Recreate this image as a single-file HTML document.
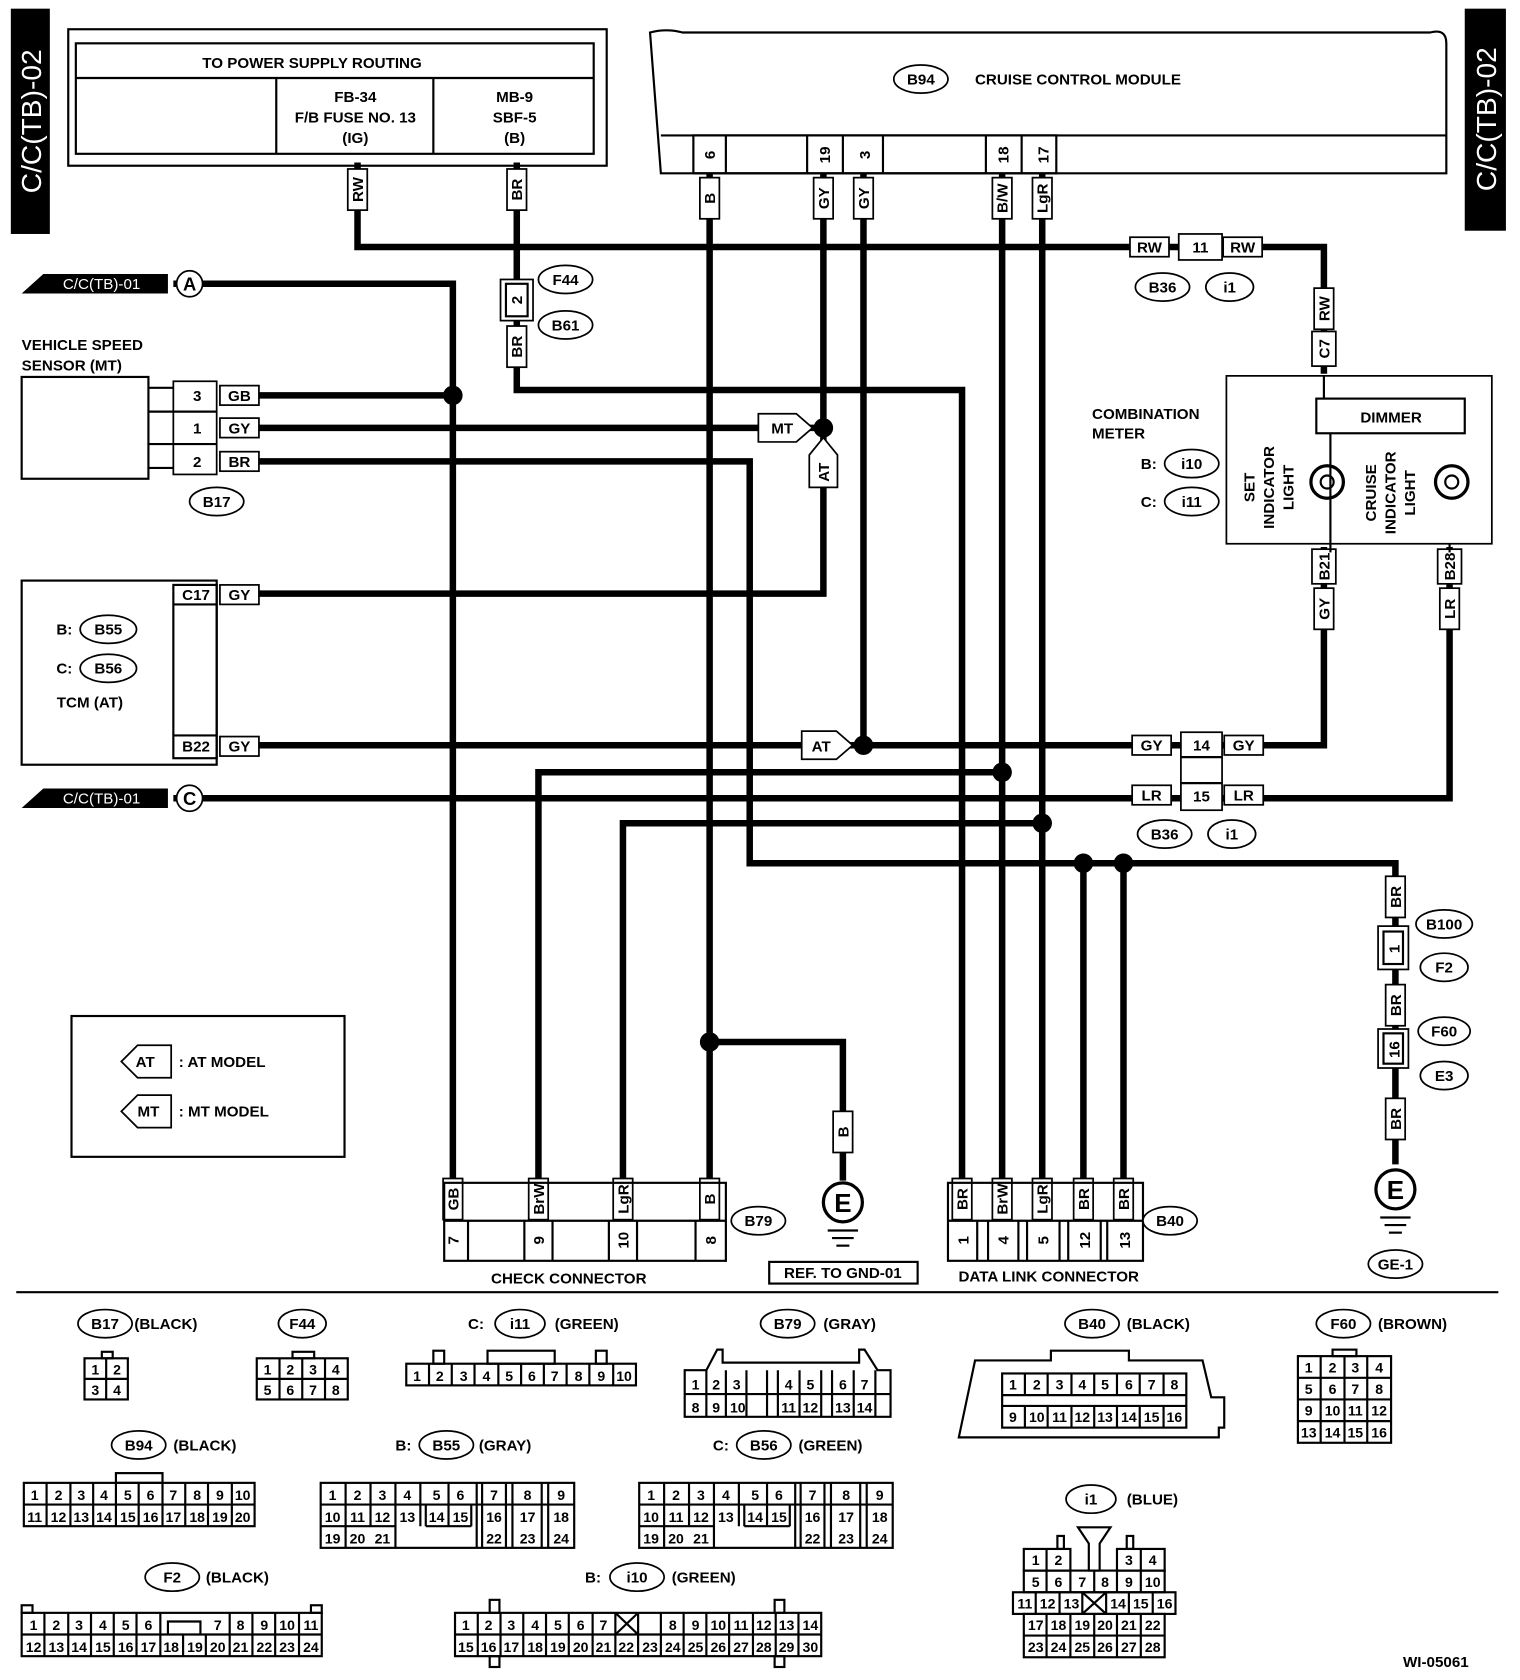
<!DOCTYPE html>
<html><head><meta charset="utf-8"><style>
html,body{margin:0;padding:0;background:#fff}
svg{display:block}
text{font-family:"Liberation Sans",Arial,sans-serif;font-weight:bold;font-size:14px;fill:#000}
.w{stroke:#000;stroke-width:6;fill:none}
.l{stroke:#000;stroke-width:2;fill:none}
.lb{stroke:#000;stroke-width:1.6;fill:#fff}
.p text,.p{font-size:13px}
</style></head><body>
<svg width="1520" height="1680" viewBox="0 0 1403 1551" preserveAspectRatio="none" xmlns="http://www.w3.org/2000/svg">
<defs>
<g id="gnd"><line x1="-14" y1="26" x2="14" y2="26" class="l"/><line x1="-10" y1="33" x2="10" y2="33" class="l"/><line x1="-6" y1="40" x2="6" y2="40" class="l"/></g>
</defs>
<!-- side tags -->
<rect x="10" y="8" width="36" height="208" fill="#000"/>
<text transform="translate(38,112) rotate(-90)" text-anchor="middle" style="fill:#fff;font-size:26px;font-weight:normal">C/C(TB)-02</text>
<rect x="1352" y="8" width="38" height="205" fill="#000"/>
<text transform="translate(1381,110) rotate(-90)" text-anchor="middle" style="fill:#fff;font-size:26px;font-weight:normal">C/C(TB)-02</text>

<!-- power supply box -->
<rect x="63" y="27" width="497" height="126" class="l"/>
<rect x="70" y="40" width="478" height="102" class="l"/>
<line x1="70" y1="72" x2="548" y2="72" class="l"/>
<line x1="255" y1="72" x2="255" y2="142" class="l"/>
<line x1="400" y1="72" x2="400" y2="142" class="l"/>
<text x="288" y="63" text-anchor="middle">TO POWER SUPPLY ROUTING</text>
<text x="328" y="94" text-anchor="middle">FB-34</text>
<text x="328" y="113" text-anchor="middle">F/B FUSE NO. 13</text>
<text x="328" y="132" text-anchor="middle">(IG)</text>
<text x="475" y="94" text-anchor="middle">MB-9</text>
<text x="475" y="113" text-anchor="middle">SBF-5</text>
<text x="475" y="132" text-anchor="middle">(B)</text>

<!-- cruise module -->
<path d="M600 30 Q615 26 630 30 L1320 30 Q1335 26 1335 40 L1335 160 L610 160 Z" class="l"/>
<line x1="610" y1="125" x2="1335" y2="125" class="l"/>
<rect x="640" y="125" width="335" height="35" class="l"/>
<line x1="670" y1="125" x2="670" y2="160" class="l"/><line x1="745" y1="125" x2="745" y2="160" class="l"/><line x1="778" y1="125" x2="778" y2="160" class="l"/><line x1="815" y1="125" x2="815" y2="160" class="l"/><line x1="910" y1="125" x2="910" y2="160" class="l"/><line x1="943" y1="125" x2="943" y2="160" class="l"/>
<ellipse cx="850" cy="73" rx="25" ry="13" class="lb"/><text x="850" y="78" text-anchor="middle">B94</text>
<text x="995" y="78" text-anchor="middle">CRUISE CONTROL MODULE</text>
<g text-anchor="middle">
<text transform="translate(660,143) rotate(-90)">6</text>
<text transform="translate(766,143) rotate(-90)">19</text>
<text transform="translate(803,143) rotate(-90)">3</text>
<text transform="translate(931,143) rotate(-90)">18</text>
<text transform="translate(968,143) rotate(-90)">17</text>
</g>

<!-- wires -->
<path class="w" d="M330 150 V228 H1222 V345"/>
<path class="w" d="M477 150 V360 H888 V1095"/>
<path class="w" d="M655 160 V1095 M655 962 H778 V1090"/>
<path class="w" d="M760 160 V548 H205"/>
<path class="w" d="M797 160 V688 M205 688 H1222 V505"/>
<path class="w" d="M925 160 V1095 M925 713 H497 V1095"/>
<path class="w" d="M962 160 V1095 M962 760 H575 V1095"/>
<path class="w" d="M160 737 H1338 V505"/>
<path class="w" d="M160 262 H418 V1095 M205 365 H418"/>
<path class="w" d="M205 395 H760"/>
<path class="w" d="M205 426 H692 V797 H1288 V1075 M1000 797 V1095 M1037 797 V1095"/>
<g fill="#000"><circle cx="418" cy="365" r="9"/><circle cx="760" cy="395" r="9"/><circle cx="797" cy="688" r="9"/><circle cx="925" cy="713" r="9"/><circle cx="962" cy="760" r="9"/><circle cx="1000" cy="797" r="9"/><circle cx="1037" cy="797" r="9"/><circle cx="655" cy="962" r="9"/></g>

<!-- arrows -->
<polygon points="700,382 735,382 750,395 735,408 700,408" class="lb"/><text x="722" y="400" text-anchor="middle">MT</text>
<polygon points="747,420 760,404 773,420 773,450 747,450" class="lb"/><text transform="translate(765,436) rotate(-90)" text-anchor="middle">AT</text>
<polygon points="740,675 772,675 787,688 772,701 740,701" class="lb"/><text x="758" y="694" text-anchor="middle">AT</text>

<!-- vertical wire labels -->
<g text-anchor="middle">
<g transform="translate(330,175) rotate(-90)"><rect x="-19" y="-9" width="38" height="18" class="lb"/><text y="5">RW</text></g>
<g transform="translate(477,175) rotate(-90)"><rect x="-19" y="-9" width="38" height="18" class="lb"/><text y="5">BR</text></g>
<g transform="translate(655,183) rotate(-90)"><rect x="-19" y="-9" width="38" height="18" class="lb"/><text y="5">B</text></g>
<g transform="translate(760,183) rotate(-90)"><rect x="-19" y="-9" width="38" height="18" class="lb"/><text y="5">GY</text></g>
<g transform="translate(797,183) rotate(-90)"><rect x="-19" y="-9" width="38" height="18" class="lb"/><text y="5">GY</text></g>
<g transform="translate(925,183) rotate(-90)"><rect x="-19" y="-9" width="38" height="18" class="lb"/><text y="5">B/W</text></g>
<g transform="translate(962,183) rotate(-90)"><rect x="-19" y="-9" width="38" height="18" class="lb"/><text y="5">LgR</text></g>
<g transform="translate(477,320) rotate(-90)"><rect x="-19" y="-9" width="38" height="18" class="lb"/><text y="5">BR</text></g>
<g transform="translate(1222,285) rotate(-90)"><rect x="-19" y="-9" width="38" height="18" class="lb"/><text y="5">RW</text></g>
<g transform="translate(1222,322) rotate(-90)"><rect x="-16" y="-11" width="32" height="22" class="lb"/><text y="5">C7</text></g>
<g transform="translate(1222,523) rotate(-90)"><rect x="-16" y="-11" width="32" height="22" class="lb"/><text y="5">B21</text></g>
<g transform="translate(1338,523) rotate(-90)"><rect x="-16" y="-11" width="32" height="22" class="lb"/><text y="5">B28</text></g>
<g transform="translate(1222,562) rotate(-90)"><rect x="-19" y="-9" width="38" height="18" class="lb"/><text y="5">GY</text></g>
<g transform="translate(1338,562) rotate(-90)"><rect x="-19" y="-9" width="38" height="18" class="lb"/><text y="5">LR</text></g>
<g transform="translate(1288,828) rotate(-90)"><rect x="-19" y="-9" width="38" height="18" class="lb"/><text y="5">BR</text></g>
<g transform="translate(1288,928) rotate(-90)"><rect x="-19" y="-9" width="38" height="18" class="lb"/><text y="5">BR</text></g>
<g transform="translate(1288,1033) rotate(-90)"><rect x="-19" y="-9" width="38" height="18" class="lb"/><text y="5">BR</text></g>
<g transform="translate(778,1045) rotate(-90)"><rect x="-19" y="-9" width="38" height="18" class="lb"/><text y="5">B</text></g>
<g transform="translate(418,1107) rotate(-90)"><rect x="-19" y="-9" width="38" height="18" class="lb"/><text y="5">GB</text></g>
<g transform="translate(497,1107) rotate(-90)"><rect x="-19" y="-9" width="38" height="18" class="lb"/><text y="5">BrW</text></g>
<g transform="translate(575,1107) rotate(-90)"><rect x="-19" y="-9" width="38" height="18" class="lb"/><text y="5">LgR</text></g>
<g transform="translate(655,1107) rotate(-90)"><rect x="-19" y="-9" width="38" height="18" class="lb"/><text y="5">B</text></g>
<g transform="translate(888,1107) rotate(-90)"><rect x="-19" y="-9" width="38" height="18" class="lb"/><text y="5">BR</text></g>
<g transform="translate(925,1107) rotate(-90)"><rect x="-19" y="-9" width="38" height="18" class="lb"/><text y="5">BrW</text></g>
<g transform="translate(962,1107) rotate(-90)"><rect x="-19" y="-9" width="38" height="18" class="lb"/><text y="5">LgR</text></g>
<g transform="translate(1000,1107) rotate(-90)"><rect x="-19" y="-9" width="38" height="18" class="lb"/><text y="5">BR</text></g>
<g transform="translate(1037,1107) rotate(-90)"><rect x="-19" y="-9" width="38" height="18" class="lb"/><text y="5">BR</text></g>
</g>

<!-- F44/B61 fuse connector -->
<rect x="462" y="258" width="30" height="38" class="lb"/><rect x="467" y="262" width="20" height="30" class="l"/>
<text transform="translate(482,277) rotate(-90)" text-anchor="middle">2</text>
<g text-anchor="middle">
<ellipse cx="522" cy="258" rx="25" ry="13" class="lb"/><text x="522" y="263">F44</text>
<ellipse cx="522" cy="300" rx="25" ry="13" class="lb"/><text x="522" y="305">B61</text>
</g>

<!-- connector 11 -->
<g text-anchor="middle">
<rect x="1043" y="219" width="36" height="18" class="lb"/><text x="1061" y="233">RW</text>
<rect x="1088" y="216" width="40" height="24" class="lb"/><text x="1108" y="233">11</text>
<rect x="1129" y="219" width="36" height="18" class="lb"/><text x="1147" y="233">RW</text>
<ellipse cx="1073" cy="265" rx="25" ry="13" class="lb"/><text x="1073" y="270">B36</text>
<ellipse cx="1135" cy="265" rx="22" ry="13" class="lb"/><text x="1135" y="270">i1</text>
<!-- connector 14/15 -->
<rect x="1045" y="679" width="36" height="18" class="lb"/><text x="1063" y="693">GY</text>
<rect x="1130" y="679" width="36" height="18" class="lb"/><text x="1148" y="693">GY</text>
<rect x="1045" y="725" width="36" height="18" class="lb"/><text x="1063" y="739">LR</text>
<rect x="1130" y="725" width="36" height="18" class="lb"/><text x="1148" y="739">LR</text>
<rect x="1090" y="676" width="38" height="72" class="lb"/><line x1="1090" y1="699" x2="1128" y2="699" class="l"/><line x1="1090" y1="723" x2="1128" y2="723" class="l"/>
<text x="1109" y="693">14</text><text x="1109" y="740">15</text>
<ellipse cx="1075" cy="770" rx="25" ry="13" class="lb"/><text x="1075" y="775">B36</text>
<ellipse cx="1137" cy="770" rx="22" ry="13" class="lb"/><text x="1137" y="775">i1</text>
</g>

<!-- vehicle speed sensor -->
<text x="20" y="323">VEHICLE SPEED</text><text x="20" y="342">SENSOR (MT)</text>
<rect x="20" y="348" width="117" height="94" class="l"/>
<path d="M137 358 H160 M137 380 H160 M137 410 H160 M137 432 H160" class="l"/>
<rect x="160" y="352" width="40" height="86" class="lb"/>
<line x1="160" y1="380" x2="200" y2="380" class="l"/><line x1="160" y1="410" x2="200" y2="410" class="l"/>
<g text-anchor="middle">
<text x="182" y="370">3</text><text x="182" y="400">1</text><text x="182" y="431">2</text>
<rect x="203" y="356" width="36" height="18" class="lb"/><text x="221" y="370">GB</text>
<rect x="203" y="386" width="36" height="18" class="lb"/><text x="221" y="400">GY</text>
<rect x="203" y="417" width="36" height="18" class="lb"/><text x="221" y="431">BR</text>
<ellipse cx="200" cy="463" rx="25" ry="13" class="lb"/><text x="200" y="468">B17</text>
</g>

<!-- TCM -->
<rect x="20" y="536" width="180" height="170" class="l"/>
<rect x="160" y="540" width="40" height="160" class="l"/>
<line x1="160" y1="558" x2="200" y2="558" class="l"/><line x1="160" y1="679" x2="200" y2="679" class="l"/>
<g text-anchor="middle">
<text x="181" y="554">C17</text><text x="181" y="694">B22</text>
<rect x="203" y="540" width="36" height="18" class="lb"/><text x="221" y="554">GY</text>
<rect x="203" y="680" width="36" height="18" class="lb"/><text x="221" y="694">GY</text>
<ellipse cx="100" cy="581" rx="26" ry="13" class="lb"/><text x="100" y="586">B55</text>
<ellipse cx="100" cy="617" rx="26" ry="13" class="lb"/><text x="100" y="622">B56</text>
<text x="83" y="653">TCM (AT)</text>
</g>
<text x="52" y="586">B:</text><text x="52" y="622">C:</text>

<!-- C/C(TB)-01 tags -->
<polygon points="40,253 155,253 155,271 20,271" fill="#000"/>
<text x="58" y="267" style="fill:#fff;font-weight:normal">C/C(TB)-01</text>
<circle cx="175" cy="262" r="12" class="lb"/><text x="175" y="268" text-anchor="middle" style="font-size:17px">A</text>
<polygon points="40,728 155,728 155,746 20,746" fill="#000"/>
<text x="58" y="742" style="fill:#fff;font-weight:normal">C/C(TB)-01</text>
<circle cx="175" cy="737" r="12" class="lb"/><text x="175" y="743" text-anchor="middle" style="font-size:17px">C</text>

<!-- combination meter -->
<text x="1008" y="387">COMBINATION</text><text x="1008" y="405">METER</text>
<text x="1053" y="433">B:</text><text x="1053" y="468">C:</text>
<g text-anchor="middle">
<ellipse cx="1100" cy="428" rx="25" ry="13" class="lb"/><text x="1100" y="433">i10</text>
<ellipse cx="1100" cy="463" rx="25" ry="13" class="lb"/><text x="1100" y="468">i11</text>
</g>
<rect x="1132" y="347" width="245" height="155" class="lb"/>
<rect x="1215" y="368" width="137" height="32" class="l"/><text x="1284" y="390" text-anchor="middle">DIMMER</text>
<line x1="1228" y1="400" x2="1228" y2="502" class="l"/>
<line x1="1222" y1="347" x2="1222" y2="368" class="l"/>
<line x1="1228" y1="502" x2="1228" y2="510" class="l"/><line x1="1338" y1="502" x2="1338" y2="510" class="l"/>
<g text-anchor="middle">
<text transform="translate(1158,450) rotate(-90)">SET</text>
<text transform="translate(1176,450) rotate(-90)">INDICATOR</text>
<text transform="translate(1194,450) rotate(-90)">LIGHT</text>
<text transform="translate(1270,455) rotate(-90)">CRUISE</text>
<text transform="translate(1288,455) rotate(-90)">INDICATOR</text>
<text transform="translate(1306,455) rotate(-90)">LIGHT</text>
</g>
<circle cx="1225" cy="445" r="15" class="l" style="stroke-width:3"/><circle cx="1225" cy="445" r="6" class="l"/>
<circle cx="1340" cy="445" r="15" class="l" style="stroke-width:3"/><circle cx="1340" cy="445" r="6" class="l"/>

<!-- right side fuse chain -->
<rect x="1272" y="855" width="28" height="40" class="lb"/><rect x="1277" y="860" width="18" height="30" class="l"/>
<text transform="translate(1292,876) rotate(-90)" text-anchor="middle">1</text>
<rect x="1272" y="950" width="28" height="36" class="lb"/><rect x="1277" y="954" width="18" height="28" class="l"/>
<text transform="translate(1292,969) rotate(-90)" text-anchor="middle">16</text>
<g text-anchor="middle">
<ellipse cx="1333" cy="853" rx="26" ry="13" class="lb"/><text x="1333" y="858">B100</text>
<ellipse cx="1333" cy="893" rx="22" ry="13" class="lb"/><text x="1333" y="898">F2</text>
<ellipse cx="1333" cy="952" rx="24" ry="13" class="lb"/><text x="1333" y="957">F60</text>
<ellipse cx="1333" cy="993" rx="22" ry="13" class="lb"/><text x="1333" y="998">E3</text>
<ellipse cx="1288" cy="1167" rx="25" ry="13" class="lb"/><text x="1288" y="1172">GE-1</text>
</g>
<!-- grounds -->
<circle cx="778" cy="1110" r="18" class="lb" style="stroke-width:3"/><text x="778" y="1119" text-anchor="middle" style="font-size:24px">E</text>
<use href="#gnd" x="778" y="1110"/>
<circle cx="1288" cy="1098" r="18" class="lb" style="stroke-width:3"/><text x="1288" y="1107" text-anchor="middle" style="font-size:24px">E</text>
<use href="#gnd" x="1288" y="1098"/>
<rect x="710" y="1165" width="137" height="20" class="l"/><text x="778" y="1180" text-anchor="middle">REF. TO GND-01</text>

<!-- check connector -->
<rect x="410" y="1092" width="260" height="72" class="l"/><line x1="410" y1="1127" x2="670" y2="1127" class="l"/>
<path d="M432 1127 V1164 M484 1127 V1164 M510 1127 V1164 M562 1127 V1164 M588 1127 V1164 M642 1127 V1164" class="l"/>
<g text-anchor="middle">
<text transform="translate(423,1145) rotate(-90)">7</text>
<text transform="translate(502,1145) rotate(-90)">9</text>
<text transform="translate(580,1145) rotate(-90)">10</text>
<text transform="translate(661,1145) rotate(-90)">8</text>
<ellipse cx="700" cy="1127" rx="25" ry="13" class="lb"/><text x="700" y="1132">B79</text>
<text x="525" y="1185">CHECK CONNECTOR</text>
</g>
<!-- data link connector -->
<rect x="875" y="1092" width="180" height="72" class="l"/><line x1="875" y1="1127" x2="1055" y2="1127" class="l"/>
<path d="M902 1127 V1164 M912 1127 V1164 M940 1127 V1164 M948 1127 V1164 M978 1127 V1164 M986 1127 V1164 M1016 1127 V1164 M1022 1127 V1164" class="l"/>
<g text-anchor="middle">
<text transform="translate(894,1145) rotate(-90)">1</text>
<text transform="translate(931,1145) rotate(-90)">4</text>
<text transform="translate(968,1145) rotate(-90)">5</text>
<text transform="translate(1006,1145) rotate(-90)">12</text>
<text transform="translate(1043,1145) rotate(-90)">13</text>
<ellipse cx="1080" cy="1127" rx="25" ry="13" class="lb"/><text x="1080" y="1132">B40</text>
<text x="968" y="1183">DATA LINK CONNECTOR</text>
</g>

<!-- legend -->
<rect x="66" y="938" width="252" height="130" class="l"/>
<polygon points="112,980 127,965 158,965 158,995 127,995" class="lb"/><text x="134" y="985" text-anchor="middle">AT</text>
<text x="165" y="985">: AT MODEL</text>
<polygon points="112,1026 127,1011 158,1011 158,1041 127,1041" class="lb"/><text x="137" y="1031" text-anchor="middle">MT</text>
<text x="165" y="1031">: MT MODEL</text>

<line x1="15" y1="1193" x2="1383" y2="1193" class="l"/>

<!-- connector headings -->
<g text-anchor="middle">
<ellipse cx="97" cy="1222" rx="25" ry="13" class="lb"/><text x="97" y="1227">B17</text>
<ellipse cx="279" cy="1222" rx="22" ry="13" class="lb"/><text x="279" y="1227">F44</text>
<ellipse cx="480" cy="1222" rx="23" ry="13" class="lb"/><text x="480" y="1227">i11</text>
<ellipse cx="727" cy="1222" rx="25" ry="13" class="lb"/><text x="727" y="1227">B79</text>
<ellipse cx="1008" cy="1222" rx="25" ry="13" class="lb"/><text x="1008" y="1227">B40</text>
<ellipse cx="1240" cy="1222" rx="25" ry="13" class="lb"/><text x="1240" y="1227">F60</text>
<ellipse cx="128" cy="1334" rx="25" ry="13" class="lb"/><text x="128" y="1339">B94</text>
<ellipse cx="412" cy="1334" rx="25" ry="13" class="lb"/><text x="412" y="1339">B55</text>
<ellipse cx="705" cy="1334" rx="25" ry="13" class="lb"/><text x="705" y="1339">B56</text>
<ellipse cx="1007" cy="1384" rx="23" ry="13" class="lb"/><text x="1007" y="1389">i1</text>
<ellipse cx="159" cy="1456" rx="25" ry="13" class="lb"/><text x="159" y="1461">F2</text>
<ellipse cx="588" cy="1456" rx="25" ry="13" class="lb"/><text x="588" y="1461">i10</text>
</g>
<text x="124" y="1227">(BLACK)</text>
<text x="432" y="1227">C:</text><text x="512" y="1227">(GREEN)</text>
<text x="760" y="1227">(GRAY)</text>
<text x="1040" y="1227">(BLACK)</text>
<text x="1272" y="1227">(BROWN)</text>
<text x="160" y="1339">(BLACK)</text>
<text x="365" y="1339">B:</text><text x="442" y="1339">(GRAY)</text>
<text x="658" y="1339">C:</text><text x="737" y="1339">(GREEN)</text>
<text x="1040" y="1389">(BLUE)</text>
<text x="190" y="1461">(BLACK)</text>
<text x="540" y="1461">B:</text><text x="620" y="1461">(GREEN)</text>
<text x="1295" y="1539">WI-05061</text>

<!-- pin grids -->
<g class="p" text-anchor="middle">
<!-- B17 -->
<rect x="94" y="1248" width="10" height="6" class="l"/>
<rect x="78" y="1254" width="40" height="38" class="l"/><path d="M98 1254V1292M78 1273H118" class="l"/>
<text y="1269"><tspan x="88">1</tspan><tspan x="108">2</tspan></text>
<text y="1288"><tspan x="88">3</tspan><tspan x="108">4</tspan></text>
<!-- F44 -->
<rect x="270" y="1248" width="20" height="6" class="l"/>
<rect x="237" y="1254" width="84" height="38" class="l"/><path d="M258 1254V1292M279 1254V1292M300 1254V1292M237 1273H321" class="l"/>
<text y="1269"><tspan x="247">1</tspan><tspan x="268">2</tspan><tspan x="289">3</tspan><tspan x="310">4</tspan></text>
<text y="1288"><tspan x="247">5</tspan><tspan x="268">6</tspan><tspan x="289">7</tspan><tspan x="310">8</tspan></text>
<!-- i11 -->
<rect x="400" y="1247" width="10" height="12" class="l"/><rect x="450" y="1247" width="62" height="12" class="l"/><rect x="550" y="1247" width="10" height="12" class="l"/>
<rect x="375" y="1259" width="212" height="20" class="l"/>
<path d="M396 1259V1279M417 1259V1279M438 1259V1279M460 1259V1279M481 1259V1279M502 1259V1279M523 1259V1279M544 1259V1279M566 1259V1279" class="l"/>
<text y="1275"><tspan x="385">1</tspan><tspan x="406">2</tspan><tspan x="428">3</tspan><tspan x="449">4</tspan><tspan x="470">5</tspan><tspan x="491">6</tspan><tspan x="512">7</tspan><tspan x="534">8</tspan><tspan x="555">9</tspan><tspan x="576">10</tspan></text>
<!-- B79 -->
<path d="M632 1265 H652 L662 1246 H667 V1258 H793 V1246 H798 L810 1265 H822 V1308 H632 Z" class="l"/>
<path d="M632 1287H822M652 1265V1308M670 1265V1308M689 1265V1308M708 1265V1308M718 1265V1308M738 1265V1308M758 1265V1308M768 1265V1308M788 1265V1308M808 1265V1308" class="l"/>
<text y="1283"><tspan x="642">1</tspan><tspan x="661">2</tspan><tspan x="680">3</tspan><tspan x="728">4</tspan><tspan x="748">5</tspan><tspan x="778">6</tspan><tspan x="798">7</tspan></text>
<text y="1304"><tspan x="642">8</tspan><tspan x="661">9</tspan><tspan x="681">10</tspan><tspan x="728">11</tspan><tspan x="748">12</tspan><tspan x="778">13</tspan><tspan x="798">14</tspan></text>
<!-- B40 -->
<path d="M900 1256 H970 V1247 H1042 V1256 H1110 L1118 1290 H1130 V1318 H1125 V1327 H885 Z" class="l"/>
<rect x="925" y="1268" width="170" height="50" class="l"/><path d="M925 1288H1095M925 1298H1095" class="l"/>
<path d="M946 1268V1288M967 1268V1288M989 1268V1288M1010 1268V1288M1031 1268V1288M1052 1268V1288M1074 1268V1288M946 1298V1318M967 1298V1318M989 1298V1318M1010 1298V1318M1031 1298V1318M1052 1298V1318M1074 1298V1318" class="l"/>
<text y="1283"><tspan x="935">1</tspan><tspan x="957">2</tspan><tspan x="978">3</tspan><tspan x="999">4</tspan><tspan x="1020">5</tspan><tspan x="1042">6</tspan><tspan x="1063">7</tspan><tspan x="1084">8</tspan></text>
<text y="1313"><tspan x="935">9</tspan><tspan x="957">10</tspan><tspan x="978">11</tspan><tspan x="999">12</tspan><tspan x="1020">13</tspan><tspan x="1042">14</tspan><tspan x="1063">15</tspan><tspan x="1084">16</tspan></text>
<!-- F60 -->
<rect x="1230" y="1246" width="22" height="6" class="l"/>
<rect x="1198" y="1252" width="86" height="80" class="l"/>
<path d="M1219 1252V1332M1241 1252V1332M1262 1252V1332M1198 1272H1284M1198 1292H1284M1198 1312H1284" class="l"/>
<text y="1267"><tspan x="1208">1</tspan><tspan x="1230">2</tspan><tspan x="1251">3</tspan><tspan x="1273">4</tspan></text>
<text y="1287"><tspan x="1208">5</tspan><tspan x="1230">6</tspan><tspan x="1251">7</tspan><tspan x="1273">8</tspan></text>
<text y="1307"><tspan x="1208">9</tspan><tspan x="1230">10</tspan><tspan x="1251">11</tspan><tspan x="1273">12</tspan></text>
<text y="1327"><tspan x="1208">13</tspan><tspan x="1230">14</tspan><tspan x="1251">15</tspan><tspan x="1273">16</tspan></text>
<!-- B94 -->
<rect x="107" y="1360" width="43" height="9" class="l"/>
<rect x="22" y="1369" width="213" height="40" class="l"/>
<path d="M22 1389H235M43 1369V1409M65 1369V1409M86 1369V1409M107 1369V1409M128 1369V1409M150 1369V1409M171 1369V1409M192 1369V1409M214 1369V1409" class="l"/>
<text y="1385"><tspan x="32">1</tspan><tspan x="54">2</tspan><tspan x="75">3</tspan><tspan x="96">4</tspan><tspan x="118">5</tspan><tspan x="139">6</tspan><tspan x="160">7</tspan><tspan x="182">8</tspan><tspan x="203">9</tspan><tspan x="224">10</tspan></text>
<text y="1405"><tspan x="32">11</tspan><tspan x="54">12</tspan><tspan x="75">13</tspan><tspan x="96">14</tspan><tspan x="118">15</tspan><tspan x="139">16</tspan><tspan x="160">17</tspan><tspan x="182">18</tspan><tspan x="203">19</tspan><tspan x="224">20</tspan></text>
<!-- B55 -->
<g>
<rect x="296" y="1369" width="234" height="60" class="l"/>
<path d="M296 1389H530M296 1409H365M388 1389V1409M393 1389V1409M393 1409H435M435 1389V1409M296 1409H365" class="l"/>
<path d="M319 1369V1429M342 1369V1409M365 1369V1429M388 1369V1389M414 1369V1409M440 1369V1429M445 1369V1429M467 1369V1429M473 1369V1429M500 1369V1429M506 1369V1429" class="l"/>
<text y="1385"><tspan x="307">1</tspan><tspan x="330">2</tspan><tspan x="353">3</tspan><tspan x="376">4</tspan><tspan x="403">5</tspan><tspan x="425">6</tspan><tspan x="456">7</tspan><tspan x="487">8</tspan><tspan x="518">9</tspan></text>
<text y="1405"><tspan x="307">10</tspan><tspan x="330">11</tspan><tspan x="353">12</tspan><tspan x="376">13</tspan><tspan x="403">14</tspan><tspan x="425">15</tspan><tspan x="456">16</tspan><tspan x="487">17</tspan><tspan x="518">18</tspan></text>
<text y="1425"><tspan x="307">19</tspan><tspan x="330">20</tspan><tspan x="353">21</tspan><tspan x="456">22</tspan><tspan x="487">23</tspan><tspan x="518">24</tspan></text>
</g>
<!-- B56 -->
<g transform="translate(294,0)">
<rect x="296" y="1369" width="234" height="60" class="l"/>
<path d="M296 1389H530M296 1409H365M388 1389V1409M393 1389V1409M393 1409H435M435 1389V1409" class="l"/>
<path d="M319 1369V1429M342 1369V1409M365 1369V1429M388 1369V1389M414 1369V1409M440 1369V1429M445 1369V1429M467 1369V1429M473 1369V1429M500 1369V1429M506 1369V1429" class="l"/>
<text y="1385"><tspan x="307">1</tspan><tspan x="330">2</tspan><tspan x="353">3</tspan><tspan x="376">4</tspan><tspan x="403">5</tspan><tspan x="425">6</tspan><tspan x="456">7</tspan><tspan x="487">8</tspan><tspan x="518">9</tspan></text>
<text y="1405"><tspan x="307">10</tspan><tspan x="330">11</tspan><tspan x="353">12</tspan><tspan x="376">13</tspan><tspan x="403">14</tspan><tspan x="425">15</tspan><tspan x="456">16</tspan><tspan x="487">17</tspan><tspan x="518">18</tspan></text>
<text y="1425"><tspan x="307">19</tspan><tspan x="330">20</tspan><tspan x="353">21</tspan><tspan x="456">22</tspan><tspan x="487">23</tspan><tspan x="518">24</tspan></text>
</g>
<!-- i1 -->
<path d="M995 1410 H1025 L1015 1425 V1450 H1005 V1425 Z" class="l"/>
<rect x="976" y="1418" width="6" height="12" class="l"/><rect x="1040" y="1418" width="6" height="12" class="l"/>
<rect x="945" y="1430" width="43" height="20" class="l"/><rect x="1031" y="1430" width="44" height="20" class="l"/>
<path d="M966 1430V1450M1053 1430V1450" class="l"/>
<rect x="945" y="1450" width="130" height="20" class="l"/>
<path d="M966 1450V1470M988 1450V1470M1010 1450V1470M1031 1450V1470M1053 1450V1470" class="l"/>
<rect x="935" y="1470" width="150" height="20" class="l"/>
<path d="M956 1470V1490M978 1470V1490M999 1470V1490M1021 1470V1490M1042 1470V1490M1064 1470V1490M999 1470L1021 1490M1021 1470L999 1490" class="l"/>
<rect x="945" y="1490" width="130" height="40" class="l"/>
<path d="M945 1510H1075M966 1490V1530M988 1490V1530M1010 1490V1530M1031 1490V1530M1053 1490V1530" class="l"/>
<text y="1445"><tspan x="956">1</tspan><tspan x="977">2</tspan><tspan x="1042">3</tspan><tspan x="1064">4</tspan></text>
<text y="1465"><tspan x="956">5</tspan><tspan x="977">6</tspan><tspan x="999">7</tspan><tspan x="1020">8</tspan><tspan x="1042">9</tspan><tspan x="1064">10</tspan></text>
<text y="1485"><tspan x="946">11</tspan><tspan x="967">12</tspan><tspan x="989">13</tspan><tspan x="1032">14</tspan><tspan x="1053">15</tspan><tspan x="1075">16</tspan></text>
<text y="1505"><tspan x="956">17</tspan><tspan x="977">18</tspan><tspan x="999">19</tspan><tspan x="1020">20</tspan><tspan x="1042">21</tspan><tspan x="1064">22</tspan></text>
<text y="1525"><tspan x="956">23</tspan><tspan x="977">24</tspan><tspan x="999">25</tspan><tspan x="1020">26</tspan><tspan x="1042">27</tspan><tspan x="1064">28</tspan></text>
<!-- F2 -->
<rect x="20" y="1482" width="10" height="7" class="l"/><rect x="287" y="1482" width="10" height="7" class="l"/>
<rect x="20" y="1489" width="277" height="40" class="l"/>
<path d="M20 1509H297M41 1489V1529M63 1489V1529M84 1489V1529M105 1489V1529M126 1489V1529M148 1489V1529M169 1509V1529M190 1509V1529M212 1489V1529M233 1489V1529M254 1489V1529M276 1489V1529M155 1509V1497H185V1509" class="l"/>
<text y="1505"><tspan x="31">1</tspan><tspan x="52">2</tspan><tspan x="73">3</tspan><tspan x="95">4</tspan><tspan x="116">5</tspan><tspan x="137">6</tspan><tspan x="201">7</tspan><tspan x="222">8</tspan><tspan x="244">9</tspan><tspan x="265">10</tspan><tspan x="287">11</tspan></text>
<text y="1525"><tspan x="31">12</tspan><tspan x="52">13</tspan><tspan x="73">14</tspan><tspan x="95">15</tspan><tspan x="116">16</tspan><tspan x="137">17</tspan><tspan x="158">18</tspan><tspan x="180">19</tspan><tspan x="201">20</tspan><tspan x="222">21</tspan><tspan x="244">22</tspan><tspan x="265">23</tspan><tspan x="287">24</tspan></text>
<!-- i10 -->
<rect x="452" y="1477" width="9" height="12" class="l"/><rect x="715" y="1477" width="9" height="12" class="l"/>
<rect x="452" y="1529" width="9" height="10" class="l"/><rect x="715" y="1529" width="9" height="10" class="l"/>
<rect x="420" y="1489" width="338" height="40" class="l"/>
<path d="M420 1509H758M441 1489V1529M462 1489V1529M483 1489V1529M504 1489V1529M525 1489V1529M547 1489V1529M568 1489V1529M589 1489V1529M610 1489V1529M631 1489V1529M652 1489V1529M673 1489V1529M695 1489V1529M716 1489V1529M737 1489V1529M568 1489L589 1509M589 1489L568 1509" class="l"/>
<text y="1505"><tspan x="430">1</tspan><tspan x="451">2</tspan><tspan x="472">3</tspan><tspan x="494">4</tspan><tspan x="515">5</tspan><tspan x="536">6</tspan><tspan x="557">7</tspan><tspan x="621">8</tspan><tspan x="642">9</tspan><tspan x="663">10</tspan><tspan x="684">11</tspan><tspan x="705">12</tspan><tspan x="726">13</tspan><tspan x="748">14</tspan></text>
<text y="1525"><tspan x="430">15</tspan><tspan x="451">16</tspan><tspan x="472">17</tspan><tspan x="494">18</tspan><tspan x="515">19</tspan><tspan x="536">20</tspan><tspan x="557">21</tspan><tspan x="578">22</tspan><tspan x="600">23</tspan><tspan x="621">24</tspan><tspan x="642">25</tspan><tspan x="663">26</tspan><tspan x="684">27</tspan><tspan x="705">28</tspan><tspan x="726">29</tspan><tspan x="748">30</tspan></text>
</g>
</svg>
</body></html>
